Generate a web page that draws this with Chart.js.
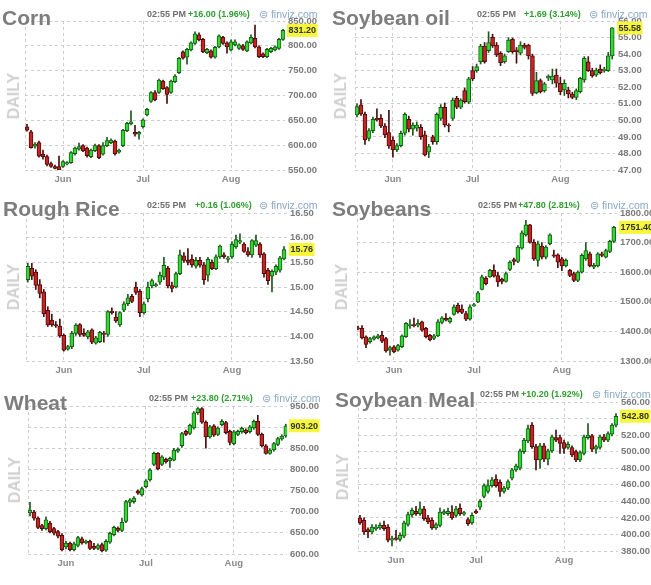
<!DOCTYPE html>
<html><head><meta charset="utf-8">
<script src="https://cdn.jsdelivr.net/npm/chart.js@4.4.1/dist/chart.umd.min.js"></script>
<style>
html,body{margin:0;padding:0;background:#fff;width:651px;height:585px;overflow:hidden;font-family:"Liberation Sans",Arial,sans-serif;}
canvas{position:absolute;}
.t{position:absolute;white-space:nowrap;}
.title{font-size:21px;font-weight:bold;color:#7d7d7d;line-height:21px;}
.time{font-size:9px;font-weight:bold;color:#6f6f6f;line-height:9px;}
.chg{font-size:9px;font-weight:bold;color:#2f9e2f;line-height:9px;}
.fv{font-size:10.5px;color:#88a9c8;line-height:10px;}
.daily{font-size:16px;font-weight:bold;color:#d0d0d0;line-height:16px;transform:translate(-50%,-50%) rotate(-90deg);}
</style></head><body>
<script>
// ---- shared axis data ----
const monthTicks = [9, 29, 51];
const monthLabels = ['Jun', 'Jul', 'Aug'];
const timeLabel = '02:55 PM';

// ---- Corn ----
const cornOpen  = [637,627,598,605,582,577,563,557,557,557,562,565,583,592,599,594,577,589,599,582,599,605,608,586,599,629,643,626,622,637,661,688,706,706,729,716,706,728,746,788,777,792,805,822,813,786,790,777,798,817,806,792,802,795,800,790,806,815,798,784,778,788,792,795,813];
const cornHigh  = [642,630,605,608,590,580,566,560,578,569,567,587,596,604,601,596,592,602,601,605,616,613,610,592,632,646,669,640,628,653,674,708,710,733,731,718,731,742,777,790,795,808,828,826,815,795,792,799,822,819,808,812,812,804,803,810,822,842,800,786,795,797,800,815,833];
const cornLow   = [628,594,594,576,572,558,555,552,548,555,560,563,580,590,587,576,575,587,573,580,597,603,580,584,597,627,641,618,612,634,659,686,689,704,712,684,704,726,744,773,763,790,803,810,786,784,775,775,796,803,785,790,800,793,791,788,804,796,776,776,776,786,790,793,811];
const cornClose = [630,595,602,578,577,561,557,553,550,567,565,585,594,597,589,579,590,599,575,599,609,610,583,590,630,644,647,622,626,651,672,706,691,731,714,702,729,739,775,775,793,806,824,812,788,793,777,797,820,805,798,808,808,802,793,808,817,798,778,778,793,795,798,813,831.2];

// ---- Soybean oil ----
const oilOpen  = [50.32,50.93,50.38,48.91,49.38,50.12,50.12,49.66,49.26,48.81,48.21,48.47,49.22,50.06,49.46,49.52,49.58,49.12,48.07,49.01,48.71,50.12,50.79,49.72,50.12,51.33,50.79,51.79,51.10,53.00,53.00,53.54,54.49,54.21,55.01,54.55,54.05,53.54,54.15,54.89,54.25,54.05,54.55,54.55,53.89,51.67,52.40,51.79,52.54,52.44,52.74,52.24,51.83,51.83,51.59,51.39,51.73,52.44,53.54,53.00,52.74,53.10,53.00,53.00,53.89];
const oilHigh  = [51.00,51.25,50.50,49.50,50.20,50.70,50.35,49.80,50.60,49.00,48.60,49.35,50.45,50.25,49.85,49.90,49.75,49.35,48.55,49.10,50.45,50.95,51.05,49.80,51.35,51.45,51.30,51.95,52.60,53.25,53.40,54.60,54.70,55.35,55.20,54.70,54.15,54.00,55.00,54.98,54.40,54.75,54.65,54.60,54.00,52.90,52.50,52.30,52.75,53.10,53.10,52.60,52.45,52.00,51.70,51.90,52.60,53.85,53.85,53.15,53.15,53.35,53.20,54.10,55.60];
const oilLow   = [50.20,50.30,48.55,48.75,49.25,49.95,49.55,48.95,48.30,47.77,48.10,48.40,49.10,49.30,49.10,49.35,48.85,47.85,47.75,48.55,48.55,50.00,49.60,49.30,50.00,50.70,50.70,51.05,51.00,52.40,52.90,53.40,53.45,54.10,54.40,53.85,53.30,53.45,54.10,54.05,53.45,53.95,54.30,53.70,51.50,51.60,51.65,51.70,52.40,52.20,52.00,51.55,51.50,51.35,51.30,51.25,51.65,52.30,52.95,52.60,52.65,52.80,52.90,52.95,53.70];
const oilClose = [50.83,50.38,48.81,49.38,50.06,50.02,49.66,49.12,48.45,48.21,48.47,49.22,50.36,49.46,49.72,49.72,49.01,47.91,48.41,48.71,50.36,50.79,49.72,49.66,51.23,50.79,51.23,51.13,52.50,52.50,53.24,54.49,53.54,54.69,54.49,53.95,53.48,53.89,54.85,54.15,54.15,54.55,54.41,53.89,51.63,52.40,51.73,52.20,52.68,52.68,52.24,51.73,52.24,51.59,51.39,51.79,52.54,53.75,53.00,52.68,53.04,52.88,53.10,53.89,55.58];

// ---- Rough Rice ----
const riceOpen  = [15.15,15.38,15.30,15.05,14.90,14.53,14.33,14.24,14.21,14.02,13.74,13.79,14.06,14.24,14.06,13.99,14.13,13.86,13.89,14.06,14.04,14.51,14.39,14.23,14.53,14.66,14.81,15.00,14.91,14.48,14.76,15.02,15.02,15.10,15.20,15.38,15.03,15.00,15.27,15.63,15.54,15.56,15.42,15.54,15.45,15.24,15.50,15.37,15.61,15.65,15.56,15.61,15.81,15.91,15.87,15.72,15.65,15.85,15.87,15.67,15.34,15.22,15.30,15.34,15.57];
const riceHigh  = [15.48,15.48,15.35,15.15,14.95,14.60,14.45,14.30,14.35,14.05,13.82,14.10,14.26,14.26,14.15,14.12,14.15,14.00,14.10,14.10,14.52,14.58,14.50,14.50,14.70,14.85,14.85,15.10,14.95,14.70,15.10,15.16,15.08,15.30,15.60,15.42,15.10,15.30,15.75,15.70,15.78,15.65,15.60,15.60,15.50,15.60,15.55,15.65,15.85,15.70,15.62,15.92,16.05,16.08,15.90,15.80,15.96,16.05,15.90,15.70,15.38,15.35,15.45,15.62,15.82];
const riceLow   = [15.10,15.15,14.95,14.78,14.40,14.20,14.20,14.18,13.98,13.70,13.72,13.75,14.02,14.00,14.00,13.95,13.85,13.84,13.87,13.88,14.00,14.45,14.28,14.20,14.50,14.62,14.68,14.85,14.40,14.45,14.70,14.98,15.00,15.05,15.15,14.98,14.90,14.98,15.25,15.50,15.45,15.40,15.38,15.40,15.05,15.12,15.35,15.35,15.58,15.58,15.50,15.58,15.78,15.88,15.70,15.62,15.60,15.82,15.60,15.20,15.05,14.90,15.25,15.30,15.55];
const riceClose = [15.42,15.22,15.03,14.87,14.46,14.23,14.23,14.21,14.01,13.72,13.79,14.06,14.23,14.04,14.02,14.09,13.88,13.97,14.08,14.04,14.50,14.48,14.31,14.48,14.66,14.78,14.71,14.89,14.48,14.66,15.00,15.13,15.05,15.24,15.44,15.02,14.97,15.27,15.65,15.54,15.50,15.45,15.54,15.44,15.15,15.56,15.37,15.61,15.83,15.61,15.59,15.87,15.96,15.94,15.72,15.65,15.94,15.94,15.65,15.27,15.13,15.32,15.42,15.59,15.76];

// ---- Soybeans ----
const beanOpen  = [1412,1410,1382,1365,1374,1378,1387,1376,1337,1348,1337,1348,1382,1419,1423,1421,1432,1410,1387,1376,1385,1430,1444,1432,1457,1488,1475,1460,1441,1486,1500,1542,1580,1584,1606,1589,1576,1569,1609,1643,1636,1681,1726,1760,1701,1640,1688,1651,1696,1659,1659,1645,1621,1606,1595,1572,1600,1645,1662,1617,1621,1662,1651,1670,1704];
const beanHigh  = [1418,1420,1385,1380,1385,1390,1400,1380,1350,1352,1356,1388,1430,1440,1445,1440,1435,1414,1390,1390,1440,1450,1460,1448,1490,1496,1490,1468,1490,1495,1535,1590,1585,1610,1625,1600,1580,1600,1638,1648,1690,1740,1775,1762,1710,1705,1700,1690,1730,1675,1662,1650,1645,1610,1600,1605,1662,1700,1668,1630,1666,1668,1678,1708,1755];
const beanLow   = [1405,1375,1345,1360,1370,1375,1362,1330,1320,1328,1333,1345,1380,1410,1415,1415,1400,1378,1368,1372,1382,1425,1435,1428,1455,1462,1460,1436,1438,1484,1497,1540,1557,1582,1583,1552,1560,1566,1605,1625,1632,1678,1722,1698,1640,1620,1645,1645,1692,1650,1615,1605,1618,1585,1568,1568,1597,1640,1618,1612,1618,1652,1648,1666,1700];
const beanClose = [1408,1378,1356,1376,1382,1385,1367,1334,1345,1331,1352,1385,1427,1423,1419,1427,1404,1382,1371,1385,1432,1446,1438,1444,1483,1466,1464,1441,1483,1491,1530,1584,1561,1606,1587,1567,1569,1595,1634,1636,1685,1733,1760,1701,1645,1696,1651,1685,1726,1654,1634,1621,1640,1589,1572,1600,1657,1673,1621,1623,1662,1657,1673,1704,1751.4];

// ---- Wheat ----
const wheatOpen  = [697,699,685,667,660,673,660,653,644,617,626,610,620,636,627,630,618,613,622,609,628,646,661,656,677,722,724,749,740,759,775,812,838,812,824,820,822,843,856,890,885,898,934,944,912,877,903,883,906,911,890,861,883,889,893,889,898,914,883,856,838,846,859,872,879];
const wheatHigh  = [722,703,688,670,688,677,663,656,648,630,628,628,642,640,633,633,625,624,626,634,652,666,664,685,727,731,736,752,758,776,802,841,840,833,827,829,850,851,888,893,907,937,946,946,915,904,906,901,918,914,893,892,893,900,896,904,917,928,886,859,849,864,876,882,907];
const wheatLow   = [690,680,660,656,657,650,645,638,607,612,607,607,617,623,624,610,610,610,605,606,625,643,652,653,674,712,720,741,737,756,772,809,799,809,815,805,820,840,852,880,882,895,930,909,850,874,878,880,903,884,858,858,880,886,884,886,895,880,853,836,836,843,856,869,876];
const wheatClose = [704,685,663,660,681,653,649,642,610,626,610,624,639,626,630,613,613,620,608,630,649,663,656,675,724,728,732,744,755,773,799,838,802,830,818,826,846,848,885,883,904,934,944,912,877,901,881,898,914,887,864,889,890,897,887,901,914,883,856,838,846,861,873,879,903.2];

// ---- Soybean Meal ----
const mealOpen  = [420,417,406,403,407,408,411,409,393,396,394,398,412,424,428,425,431,420,417,408,411,425.5,425,427,423,432,424.5,418,414,428,433,446,452,459,467,463,452,456,468,478,480,500,513,532,506,490,507,491,501,517,517,511,505,505,500,490,498,517,519,503,505,518,514,521,532];
const mealHigh  = [423,420,408,412,412,414,416,412,398,405,402,416,427,432,434,439,434,423,420,414,432,430,432,435,434,437,428,420,426,430,442,461,466,469,472,466,458,466,480,485,503,516,532,535,509,510,510,503,520,526,520,514,512,507,502,501,520,534,521,508,520,521,524,534,546];
const mealLow   = [412,400,396,401,405,406,405,391,386,393,392,396,410,421,423,423,417,413,406,406,409,424,423,418,421,423,423,411,412,425,430,444,450,457,457,446,450,454,466,476,478,498,511,504,478,480,488,484,499,512,498,498,503,494,488,488,496,515,500,498,503,512,512,519,530];
const mealClose = [414,403,403,409,409,411,407,393,395,394,399,414,424,429,425,431,419,415,408,412,427,427.5,428,420,431,425,426.5,413,423,426,440,459,459,466,459,452,456,464,478,483,501,514,528,506,490,507,491,501,518,514,510,504,509,496,490,499,518,520,503,506,518,514,522,532,542.8];

// ---- panel layout (positions / styles only) ----
const GREEN = '#2fda2f', GREEN_D = '#1c581c', RED = '#c92222', RED_D = '#4a0e0e';
const GRID = '#cdcdcd';
const FONT = '"Liberation Sans", Arial, sans-serif';

const panels = [
  {name:'Corn', chg:'+16.00 (1.96%)', o:cornOpen, h:cornHigh, l:cornLow, c:cornClose,
   box:[0,0,325,190], area:[25,21,285,170], y:[550,850,50], x:[-0.5,64.5],
   titleTop:7, titleLeft:2, hdrY:14, timeX:147, chgX:188, fvX:259},
  {name:'Soybean oil', chg:'+1.69 (3.14%)', o:oilOpen, h:oilHigh, l:oilLow, c:oilClose,
   box:[325,0,326,190], area:[355,21,615,170], y:[47,56,1], x:[-0.5,64.7],
   titleTop:7, titleLeft:332, hdrY:14, timeX:477, chgX:524, fvX:589},
  {name:'Rough Rice', chg:'+0.16 (1.06%)', o:riceOpen, h:riceHigh, l:riceLow, c:riceClose,
   box:[0,192,325,192], area:[26,213,287,361], y:[13.5,16.5,0.5], x:[-0.45,64.75],
   titleTop:198, titleLeft:3, hdrY:205, timeX:147, chgX:195, fvX:259},
  {name:'Soybeans', chg:'+47.80 (2.81%)', o:beanOpen, h:beanHigh, l:beanLow, c:beanClose,
   box:[325,192,326,192], area:[357,213,617,361], y:[1300,1800,100], x:[-0.25,64.8],
   titleTop:198, titleLeft:332, hdrY:205, timeX:478, chgX:518, fvX:590},
  {name:'Wheat', chg:'+23.80 (2.71%)', o:wheatOpen, h:wheatHigh, l:wheatLow, c:wheatClose,
   box:[0,385,325,200], area:[28,406,287,554], y:[600,950,50], x:[-0.5,64.3],
   titleTop:392, titleLeft:4, hdrY:398, timeX:149, chgX:191, fvX:262},
  {name:'Soybean Meal', chg:'+10.20 (1.92%)', o:mealOpen, h:mealHigh, l:mealLow, c:mealClose,
   box:[325,385,326,200], area:[358,402,618,551], y:[380,560,20], x:[-0.5,64.5],
   titleTop:389, titleLeft:335, hdrY:394, timeX:480, chgX:521, fvX:592}
];

function addText(cls, text, left, top) {
  const d = document.createElement('div');
  d.className = 't ' + cls;
  d.textContent = text;
  d.style.left = left + 'px';
  d.style.top = top + 'px';
  document.body.appendChild(d);
  return d;
}

function makePanel(p) {
  const [bx, by, bw, bh] = p.box;
  const [ax0, ay0, ax1, ay1] = p.area;
  const cv = document.createElement('canvas');
  cv.width = bw; cv.height = bh;
  cv.style.left = bx + 'px'; cv.style.top = by + 'px';
  cv.style.width = bw + 'px'; cv.style.height = bh + 'px';
  document.body.appendChild(cv);

  const up = p.o.map((o, i) => p.c[i] >= o);
  const bodies = p.o.map((o, i) => ({x: i, y: [Math.min(o, p.c[i]), Math.max(o, p.c[i])]}));
  const wicks = p.h.map((hv, i) => ({x: i, y: [p.l[i], hv]}));
  const last = p.c[p.c.length - 1];
  const yW = bx + bw - ax1;
  const xH = by + bh - ay1;

  const lastPricePlugin = {
    id: 'lastPrice',
    afterDraw(chart) {
      const ctx = chart.ctx;
      const ys = chart.scales.y;
      const yy = ys.getPixelForValue(last);
      const txt = last.toFixed(2);
      ctx.save();
      ctx.font = 'bold 9px ' + FONT;
      const w = ctx.measureText(txt).width;
      const x0 = chart.chartArea.right + 2;
      ctx.fillStyle = '#f6f63a';
      ctx.fillRect(x0, yy - 6.5, w + 3, 13);
      ctx.fillStyle = '#333';
      ctx.textBaseline = 'middle';
      ctx.textAlign = 'left';
      ctx.fillText(txt, x0 + 1.5, yy + 0.5);
      ctx.restore();
    }
  };

  new Chart(cv, {
    type: 'bar',
    data: {
      datasets: [
        {data: bodies, backgroundColor: up.map(u => u ? GREEN : RED), borderColor: up.map(u => u ? GREEN_D : RED_D),
         borderWidth: 1, borderSkipped: false, barThickness: 4, grouped: false, order: 0},
        {data: wicks, backgroundColor: up.map(u => u ? GREEN_D : RED_D), borderWidth: 0,
         barThickness: 1, grouped: false, order: 1}
      ]
    },
    options: {
      responsive: false, animation: false, events: [],
      devicePixelRatio: 1,
      layout: {padding: {left: ax0 - bx, top: ay0 - by, right: 0, bottom: 0}},
      plugins: {legend: {display: false}, tooltip: {enabled: false}},
      scales: {
        x: {
          type: 'linear', min: p.x[0], max: p.x[1], offset: false,
          afterBuildTicks: s => { s.ticks = [{value: p.x[0]}].concat(monthTicks.map(v => ({value: v}))); },
          ticks: {
            autoSkip: false, maxRotation: 0, padding: 4, color: '#8a8a8a',
            font: {family: FONT, size: 9.5, weight: 'bold'},
            callback: v => { const k = monthTicks.indexOf(v); return k >= 0 ? monthLabels[k] : ''; }
          },
          grid: {color: GRID, drawTicks: false, lineWidth: 1, offset: false},
          border: {display: false, dash: [3, 3]},
          afterFit: s => { s.height = xH; }
        },
        y: {
          position: 'right', min: p.y[0], max: p.y[1],
          ticks: {
            stepSize: p.y[2], padding: 3, color: '#7a7a7a',
            font: {family: FONT, size: 9.5, weight: 'bold'},
            callback: v => Number(v).toFixed(2)
          },
          grid: {color: GRID, drawTicks: false, lineWidth: 1},
          border: {display: false, dash: [3, 3]},
          afterFit: s => { s.width = yW; }
        }
      }
    },
    plugins: [lastPricePlugin]
  });

  addText('title', p.name, p.titleLeft, p.titleTop);
  addText('time', timeLabel, p.timeX, p.hdrY - 4.5);
  addText('chg', p.chg, p.chgX, p.hdrY - 4.5);
  addText('fv', '\u229C finviz.com', p.fvX, p.hdrY - 5.5);
  addText('daily', 'DAILY', (ax0 - bx) / 2 + bx + 1, (ay0 + ay1) / 2);
}

panels.forEach(makePanel);
</script>
</body></html>
